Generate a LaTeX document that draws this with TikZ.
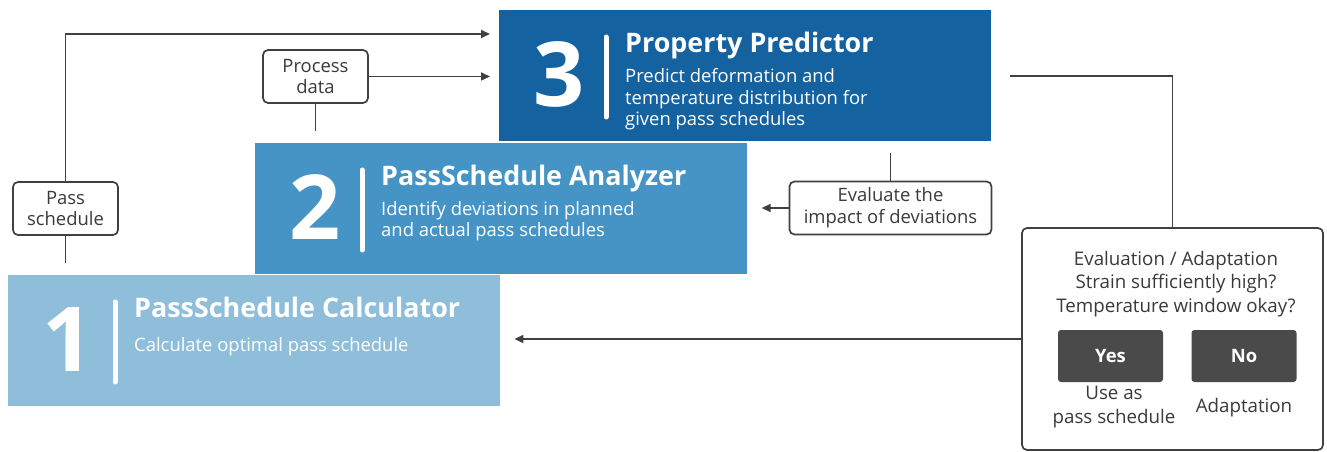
\documentclass[tikz,border=0pt]{standalone}
\usepackage{fontspec}
\setmainfont{Open Sans}
\usetikzlibrary{arrows.meta,positioning}

\definecolor{stepone}{RGB}{142,190,218}
\definecolor{steptwo}{RGB}{70,148,198}
\definecolor{stepthree}{RGB}{21,98,160}
\definecolor{linegray}{RGB}{64,64,64}
\definecolor{btngray}{RGB}{74,74,74}
\definecolor{darktext}{RGB}{58,58,58}

\newcommand{\smalltext}{\fontsize{18.5}{22}\selectfont}

\tikzset{
  stage/.style={anchor=north west, minimum width=492bp, minimum height=131bp, inner sep=0pt},
  stagenum/.style={text=white, inner sep=0pt, font=\fontsize{90}{90}\selectfont\bfseries},
  stagetitle/.style={text=white, anchor=base west, inner sep=0pt, font=\fontsize{27}{30}\selectfont\bfseries},
  stagetext/.style={text=white, anchor=base west, inner sep=0pt, align=left, font=\fontsize{18.5}{22}\selectfont},
  label box/.style={draw=linegray, line width=1.7bp, rounded corners=5bp, fill=white,
    text=darktext, align=center, font=\smalltext, minimum height=53bp, inner sep=2bp},
  flow/.style={draw=linegray, line width=1.7bp},
  arr/.style={flow, -{Triangle[length=9bp,width=8bp]}},
  button/.style={fill=btngray, rounded corners=3bp, minimum width=105bp, minimum height=52bp,
    text=white, font=\smalltext\bfseries},
  paneltext/.style={text=darktext, align=center, font=\fontsize{18.8}{23.5}\selectfont, inner sep=0pt},
}

\begin{document}
\begin{tikzpicture}[x=1bp,y=-1bp]
  \useasboundingbox (0,0) rectangle (1327,452);

  % the three tool blocks (\bl = baseline of the last text line)
  \foreach \n/\px/\py/\col/\bl/\head/\body in {
      1/8/275/stepone/76/{PassSchedule Calculator}/{Calculate optimal pass schedule},
      2/255/143/steptwo/94/{PassSchedule Analyzer}/{Identify deviations in planned\\and actual pass schedules},
      3/499/10/stepthree/116/{Property Predictor}/{Predict deformation and\\temperature distribution for\\given pass schedules}}
  {
    \node[stage, fill=\col] (s\n) at (\px,\py) {};
    \node[stagenum] (num\n) at (\px+60,\py+64) {\n};
    \draw[white, line width=5bp, line cap=round] (\px+107,\py+27) -- (\px+107,\py+107);
    \node[stagetitle] (head\n) at (\px+126,\py+43) {\head};
    \node[stagetext] (body\n) at (\px+126,\py+\bl) {\body};
  }

  % labels on the connectors
  \node[label box, minimum width=105bp] (psch) at (65.5,208.5) {Pass\\schedule};
  \node[label box, minimum width=105bp] (pdata) at (315.5,76.5) {Process\\data};
  \node[label box, minimum width=202bp] (evdev) at (890.5,208) {Evaluate the\\impact of deviations};

  % evaluation panel
  \node[label box, minimum width=301bp, minimum height=222bp] (evpanel) at (1172.5,339) {};
  \node[paneltext] (question) at (1176,284) {Evaluation / Adaptation\\Strain sufficiently high?\\Temperature window okay?};
  \node[button] (yes) at (1110.5,356) {Yes};
  \node[button] (no) at (1244,356) {No};
  \node[paneltext] (useas) at (1114,407) {Use as\\pass schedule};
  \node[paneltext] (adapt) at (1244,408) {Adaptation};

  \draw[flow] (psch.south) -- ++(0,27);
  \draw[arr, shorten >=9bp] (psch.north) |- ([yshift=-24bp]s3.north west);
  \draw[flow] (pdata.south) -- ++(0,27);
  \draw[arr, shorten >=9bp] (pdata.east) -- (pdata.east -| s3.west);
  \draw[flow] (evdev.north) -- ++(0,-28);
  \draw[arr] (evdev.west) -- ++(-27,0);
  \draw[flow] ([xshift=19bp]s3.east) -| (evpanel.north);
  \draw[arr, shorten >=14bp] (evpanel.west) -- (evpanel.west -| s1.east);
\end{tikzpicture}
\end{document}
